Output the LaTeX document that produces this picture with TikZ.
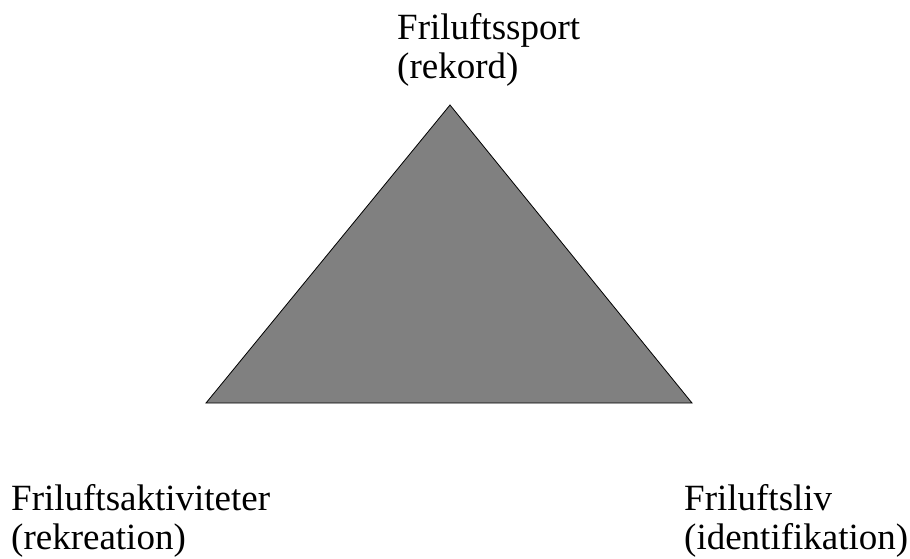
\documentclass[tikz,border=0pt]{standalone}
\usepackage{fontspec}
\setmainfont{Liberation Serif}
\begin{document}
\begin{tikzpicture}[x=1pt,y=-1pt,
  lbl/.style={anchor=base west,inner sep=0pt,font=\fontsize{37}{41}\selectfont},
  tri/.style={draw=black,fill=black!50,line width=0.8pt,line join=miter}]
\useasboundingbox (0,0) rectangle (910,558);
\coordinate (A) at (450,105);
\coordinate (B) at (206,403);
\coordinate (C) at (692,403);
\draw[tri] (A) -- (B) -- (C) -- cycle;
\node[lbl] (top1) at (397,39) {Friluftssport};
\node[lbl] (top2) at (397,78) {(rekord)};
\node[lbl] (left1) at (11,510) {Friluftsaktiviteter};
\node[lbl] (left2) at (11,549) {(rekreation)};
\node[lbl] (right1) at (684,510) {Friluftsliv};
\node[lbl] (right2) at (684,549) {(identifikation)};
\end{tikzpicture}
\end{document}
